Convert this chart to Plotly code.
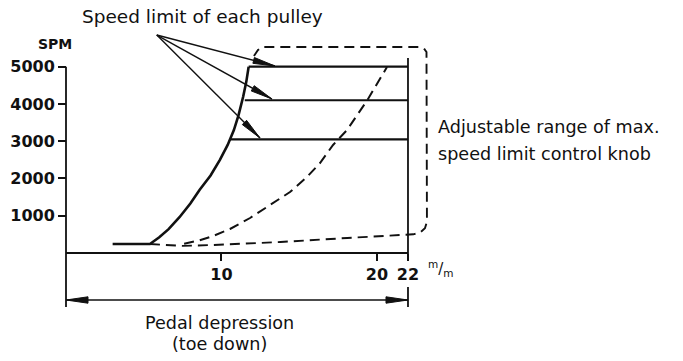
import math
import plotly.graph_objects as go

W, H = 683, 361

# Pedal travel (mm) against sewing speed (SPM)
curve_mm = [3.0, 5.4, 6.0, 6.6, 7.3, 8.0, 8.6, 9.3, 9.9, 10.4, 10.8, 11.1, 11.4, 11.6, 11.75]
curve_spm = [240, 240, 420, 640, 960, 1330, 1700, 2080, 2500, 2900, 3300, 3700, 4200, 4600, 5000]

# Speed limit of each pulley: level and pedal travel where it takes over
limit_spm = [3050, 4100, 5000]
limit_start_mm = [10.55, 11.5, 11.75]
pedal_max_mm = 22

# Lowest setting of the max. speed limit knob
knob_mm = [7.6, 8.6, 9.46, 10.55, 11.84, 13.12, 14.41, 15.5, 16.34, 17.18, 17.63, 18.08, 19.36, 20.65]
knob_spm = [250, 340, 456, 644, 939, 1288, 1637, 2040, 2415, 2899, 3113, 3301, 4087, 4992]

# Outline of the adjustable range (idle line, then round the knob range)
range_mm = [5.4, 7.5, 9.5, 13.8, 18.1, 22.0, 22.34, 22.77, 23.09, 23.22,
            23.22, 23.19, 23.03, 22.71, 12.61, 12.35, 12.09]
range_spm = [240, 190, 215, 295, 403, 483, 502, 545, 663, 840,
             5287, 5395, 5488, 5529, 5529, 5448, 5287]

# Pointers from the "Speed limit of each pulley" note
pointer_from_mm, pointer_from_spm = 5.84, 5850
pointer_to_mm = [13.44, 13.25, 12.48]
pointer_to_spm = [5019, 4133, 3086]

y_ticks = [1000, 2000, 3000, 4000, 5000]
x_ticks = [10, 20, 22]

# Pixel scale of the drawing
X0_PX, MM_PX = 66, 15.545
Y0_PX, SPM_PX = 253, 0.03726
x_range = [-X0_PX / MM_PX, (W - X0_PX) / MM_PX]
y_range = [-(H - Y0_PX) / SPM_PX, Y0_PX / SPM_PX]

# Auxiliary levels below the axis (in SPM units) for the travel bracket
TRAVEL_Y = -(300 - Y0_PX) / SPM_PX
BRACKET_LOW = -(307 - Y0_PX) / SPM_PX
BRACKET_HIGH = -(287 - Y0_PX) / SPM_PX
AXIS_TICK_LOW = -(259 - Y0_PX) / SPM_PX
RIGHT_TOP = (Y0_PX - 58) / SPM_PX


def to_px(x, y):
    return X0_PX + x * MM_PX, Y0_PX - y * SPM_PX


def from_px(px, py):
    return (px - X0_PX) / MM_PX, (Y0_PX - py) / SPM_PX


def arrow_head(tip_x, tip_y, from_x, from_y, length=20, half=3.0):
    tx, ty = to_px(tip_x, tip_y)
    fx, fy = to_px(from_x, from_y)
    dx, dy = tx - fx, ty - fy
    n = math.hypot(dx, dy)
    ux, uy = dx / n, dy / n
    bx, by = tx - ux * length, ty - uy * length
    pts = [(tx, ty), (bx - uy * half, by + ux * half), (bx + uy * half, by - ux * half), (tx, ty)]
    xs, ys = zip(*[from_px(p, q) for p, q in pts])
    return list(xs), list(ys)


INK = "#111111"
FONT = "DejaVu Sans"

fig = go.Figure()


def line(xs, ys, width=2.0, dash="solid"):
    fig.add_trace(go.Scatter(x=xs, y=ys, mode="lines",
                             line=dict(color=INK, width=width, dash=dash),
                             hoverinfo="skip"))


def filled(xs, ys):
    fig.add_trace(go.Scatter(x=xs, y=ys, mode="lines", fill="toself",
                             fillcolor=INK, line=dict(color=INK, width=1),
                             hoverinfo="skip"))


# Axes
line([0, 0], [5000, BRACKET_LOW], width=1.8)
line([0, pedal_max_mm], [0, 0], width=2.0)
line([pedal_max_mm, pedal_max_mm], [RIGHT_TOP, AXIS_TICK_LOW], width=1.8)
line([pedal_max_mm, pedal_max_mm], [BRACKET_HIGH, BRACKET_LOW], width=1.8)

# Pedal depression travel arrow
line([0, pedal_max_mm], [TRAVEL_Y, TRAVEL_Y], width=1.4)
hx, hy = arrow_head(0, TRAVEL_Y, pedal_max_mm, TRAVEL_Y, length=22, half=3.2)
filled(hx, hy)
hx, hy = arrow_head(pedal_max_mm, TRAVEL_Y, 0, TRAVEL_Y, length=22, half=3.2)
filled(hx, hy)

# Speed curve and pulley limits
line(curve_mm, curve_spm, width=2.6)
for lvl, start in zip(limit_spm, limit_start_mm):
    line([start, pedal_max_mm], [lvl, lvl], width=2.2)

# Knob curve and adjustable range outline
line(knob_mm, knob_spm, width=2.0, dash="10px,6px")
line(range_mm, range_spm, width=1.9, dash="10px,6px")

# Pointers
for tx, ty in zip(pointer_to_mm, pointer_to_spm):
    line([pointer_from_mm, tx], [pointer_from_spm, ty], width=1.4)
    hx, hy = arrow_head(tx, ty, pointer_from_mm, pointer_from_spm, length=22, half=3.0)
    filled(hx, hy)

tick_font = dict(family=FONT, size=16, color=INK, weight="bold")

fig.update_layout(
    width=W, height=H,
    margin=dict(l=0, r=0, t=0, b=0),
    paper_bgcolor="white", plot_bgcolor="white",
    showlegend=False,
    xaxis=dict(range=x_range, domain=[0, 1], anchor="free",
               position=(H - Y0_PX) / H,
               showgrid=False, zeroline=False, showline=False,
               ticks="outside", ticklen=7, tickwidth=1.6, tickcolor=INK,
               tickvals=x_ticks, ticktext=[str(v) for v in x_ticks],
               tickfont=tick_font, fixedrange=True),
    yaxis=dict(range=y_range, domain=[0, 1], anchor="free",
               position=X0_PX / W,
               showgrid=False, zeroline=False, showline=False,
               ticks="outside", ticklen=8, tickwidth=1.6, tickcolor=INK,
               tickvals=y_ticks, ticktext=[str(v) for v in y_ticks],
               tickfont=tick_font, fixedrange=True),
)


def note(text, px, py, size=17, xanchor="center", bold=False):
    fig.add_annotation(text=text, x=px / W, y=1 - py / H, xref="paper", yref="paper",
                       showarrow=False, xanchor=xanchor, yanchor="middle",
                       font=dict(family=FONT, size=size, color=INK,
                                 weight="bold" if bold else "normal"))


note("Speed limit of each pulley", 202, 17, size=18.5)
note("SPM", 55, 44, size=14, bold=True)
note("Adjustable range of max.", 436, 127, size=17.6, xanchor="left")
note("speed limit control knob", 436, 154, size=17.6, xanchor="left")
note("Pedal depression", 219, 323, size=17.6)
note("(toe down)", 219, 344, size=17.6)
note("<sup>m</sup>/<sub>m</sub>", 426, 268, size=15, xanchor="left")

fig.write_html("out.html")
